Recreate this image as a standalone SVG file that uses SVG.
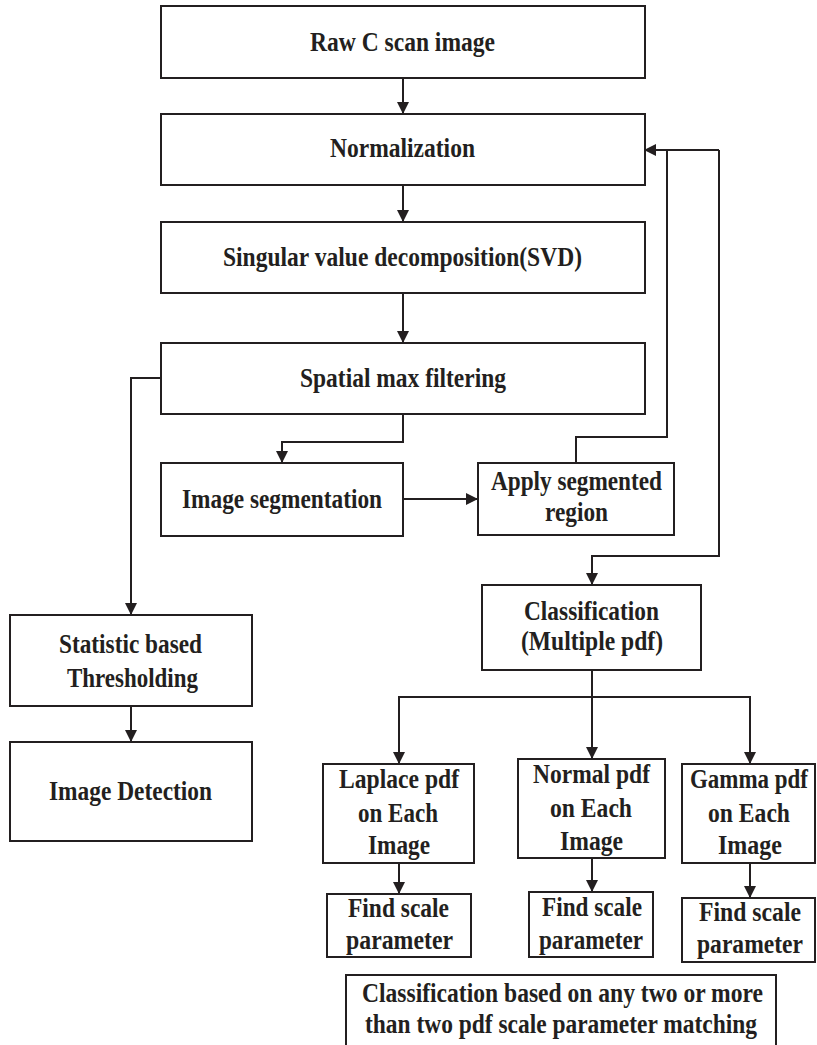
<svg xmlns="http://www.w3.org/2000/svg" width="817" height="1045" viewBox="0 0 817 1045">
<style>
.box{fill:#fff;stroke:#231f20;stroke-width:2}
.t{font-family:"Liberation Serif","Times New Roman",serif;font-weight:bold;font-size:28px;fill:#231f20;text-anchor:middle}
.c{fill:none;stroke:#231f20;stroke-width:2}
</style>
<defs>
<marker id="ah" viewBox="0 0 12 12" refX="12" refY="6" markerWidth="12" markerHeight="12" markerUnits="userSpaceOnUse" orient="auto">
<path d="M0,0 L12,6 L0,12 z" fill="#231f20"/>
</marker>
</defs>
<rect width="817" height="1045" fill="#fff"/>
<g id="connectors">
<path class="c" d="M403,78 V114" marker-end="url(#ah)"/>
<path class="c" d="M403,185 V222" marker-end="url(#ah)"/>
<path class="c" d="M403,293 V343" marker-end="url(#ah)"/>
<path class="c" d="M403,414 V442 H282 V463" marker-end="url(#ah)"/>
<path class="c" d="M403,499 H478" marker-end="url(#ah)"/>
<path class="c" d="M576,463 V437 H667 V150"/>
<path class="c" d="M719,150 H644" marker-end="url(#ah)"/>
<path class="c" d="M719,150 V556 H592 V585" marker-end="url(#ah)"/>
<path class="c" d="M161,378 H131 V615" marker-end="url(#ah)"/>
<path class="c" d="M131,706 V742" marker-end="url(#ah)"/>
<path class="c" d="M592,670 V759" marker-end="url(#ah)"/>
<path class="c" d="M592,697 H399 V764" marker-end="url(#ah)"/>
<path class="c" d="M592,697 H750 V764" marker-end="url(#ah)"/>
<path class="c" d="M399,863 V894" marker-end="url(#ah)"/>
<path class="c" d="M592,858 V892" marker-end="url(#ah)"/>
<path class="c" d="M750,863 V898" marker-end="url(#ah)"/>
</g>
<g id="raw"><rect class="box" x="161" y="6" width="484" height="72"/><text class="t" x="402.5" y="51" textLength="185" lengthAdjust="spacingAndGlyphs">Raw C scan image</text></g>
<g id="norm"><rect class="box" x="161" y="114" width="484" height="71"/><text class="t" x="402.5" y="157" textLength="145" lengthAdjust="spacingAndGlyphs">Normalization</text></g>
<g id="svd"><rect class="box" x="161" y="222" width="484" height="71"/><text class="t" x="402.5" y="266" textLength="359" lengthAdjust="spacingAndGlyphs">Singular value decomposition(SVD)</text></g>
<g id="spatial"><rect class="box" x="161" y="343" width="484" height="71"/><text class="t" x="403" y="387" textLength="206" lengthAdjust="spacingAndGlyphs">Spatial max filtering</text></g>
<g id="seg"><rect class="box" x="161" y="463" width="242" height="73"/><text class="t" x="282" y="508" textLength="200" lengthAdjust="spacingAndGlyphs">Image segmentation</text></g>
<g id="apply"><rect class="box" x="478" y="463" width="196" height="72"/><text class="t" x="576.5" y="490" textLength="171" lengthAdjust="spacingAndGlyphs">Apply segmented</text><text class="t" x="576.5" y="521" textLength="63" lengthAdjust="spacingAndGlyphs">region</text></g>
<g id="classif"><rect class="box" x="482" y="585" width="219" height="85"/><text class="t" x="591.5" y="620" textLength="135" lengthAdjust="spacingAndGlyphs">Classification</text><text class="t" x="592" y="650" textLength="142" lengthAdjust="spacingAndGlyphs">(Multiple pdf)</text></g>
<g id="stat"><rect class="box" x="10" y="615" width="242" height="91"/><text class="t" x="130.5" y="653" textLength="143" lengthAdjust="spacingAndGlyphs">Statistic based</text><text class="t" x="132.5" y="687" textLength="131" lengthAdjust="spacingAndGlyphs">Thresholding</text></g>
<g id="detect"><rect class="box" x="10" y="742" width="242" height="99"/><text class="t" x="130.5" y="800" textLength="163" lengthAdjust="spacingAndGlyphs">Image Detection</text></g>
<g id="laplace"><rect class="box" x="323" y="764" width="151" height="99"/><text class="t" x="399" y="788" textLength="120" lengthAdjust="spacingAndGlyphs">Laplace pdf</text><text class="t" x="398" y="822" textLength="80" lengthAdjust="spacingAndGlyphs">on Each</text><text class="t" x="399" y="854" textLength="62" lengthAdjust="spacingAndGlyphs">Image</text></g>
<g id="normal"><rect class="box" x="518" y="759" width="147" height="99"/><text class="t" x="591.5" y="783" textLength="117" lengthAdjust="spacingAndGlyphs">Normal pdf</text><text class="t" x="591" y="817" textLength="82" lengthAdjust="spacingAndGlyphs">on Each</text><text class="t" x="591.5" y="850" textLength="63" lengthAdjust="spacingAndGlyphs">Image</text></g>
<g id="gamma"><rect class="box" x="682" y="764" width="133" height="99"/><text class="t" x="749" y="788" textLength="118" lengthAdjust="spacingAndGlyphs">Gamma pdf</text><text class="t" x="749" y="822" textLength="82" lengthAdjust="spacingAndGlyphs">on Each</text><text class="t" x="750" y="854" textLength="64" lengthAdjust="spacingAndGlyphs">Image</text></g>
<g id="find1"><rect class="box" x="327" y="894" width="144" height="63"/><text class="t" x="398.5" y="917" textLength="101" lengthAdjust="spacingAndGlyphs">Find scale</text><text class="t" x="399.5" y="949" textLength="107" lengthAdjust="spacingAndGlyphs">parameter</text></g>
<g id="find2"><rect class="box" x="529" y="892" width="124" height="65"/><text class="t" x="592" y="916" textLength="100" lengthAdjust="spacingAndGlyphs">Find scale</text><text class="t" x="591" y="949" textLength="104" lengthAdjust="spacingAndGlyphs">parameter</text></g>
<g id="find3"><rect class="box" x="682" y="898" width="133" height="64"/><text class="t" x="750" y="921" textLength="102" lengthAdjust="spacingAndGlyphs">Find scale</text><text class="t" x="750" y="953" textLength="106" lengthAdjust="spacingAndGlyphs">parameter</text></g>
<g id="final"><rect class="box" x="346" y="975" width="430" height="75"/><text class="t" x="562.5" y="1002" textLength="401" lengthAdjust="spacingAndGlyphs">Classification based on any two or more</text><text class="t" x="561" y="1033" textLength="392" lengthAdjust="spacingAndGlyphs">than two pdf scale parameter matching</text></g>
</svg>
